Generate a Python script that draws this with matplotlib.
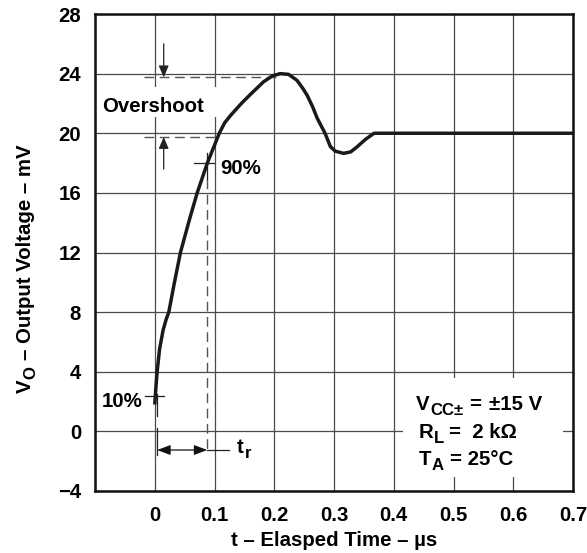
import matplotlib
matplotlib.use("Agg")
import matplotlib.pyplot as plt
from matplotlib.patches import Rectangle
from matplotlib.transforms import IdentityTransform

# ---- data ----
t_us = [0.0, 0.002, 0.004, 0.008, 0.014, 0.019, 0.0235, 0.033, 0.043, 0.058,
        0.071, 0.088, 0.098, 0.108, 0.117, 0.127, 0.145, 0.16, 0.182, 0.197,
        0.21, 0.224, 0.238, 0.248, 0.255, 0.264, 0.272, 0.285, 0.294, 0.302,
        0.316, 0.328, 0.339, 0.353, 0.367, 0.7]
vo_mv = [1.8, 3.0, 4.0, 5.5, 6.8, 7.5, 8.0, 10.0, 12.0, 14.2,
         16.0, 18.0, 19.0, 20.0, 20.7, 21.2, 22.0, 22.6, 23.45, 23.85,
         24.0, 23.95, 23.55, 23.0, 22.55, 21.8, 21.0, 20.0, 19.1, 18.8,
         18.65, 18.75, 19.1, 19.6, 20.0, 20.0]
x_ticks = [0, 0.1, 0.2, 0.3, 0.4, 0.5, 0.6, 0.7]
x_tick_labels = ["0", "0.1", "0.2", "0.3", "0.4", "0.5", "0.6", "0.7"]
y_ticks = [-4, 0, 4, 8, 12, 16, 20, 24, 28]
y_tick_labels = ["\u22124", "0", "4", "8", "12", "16", "20", "24", "28"]
x_grid = [-0.1, 0, 0.1, 0.2, 0.3, 0.4, 0.5, 0.6, 0.7]

overshoot_level = 23.75
final_level = 19.75
t10 = 0.004
t90 = 0.088
v10 = 2.4
v90 = 18.0

FONT = "Liberation Sans"
plt.rcParams["font.family"] = [FONT, "DejaVu Sans"]
plt.rcParams["font.weight"] = "bold"

FS = 14.7
SUB = 0.82
fig = plt.figure(figsize=(5.87, 5.53), dpi=100)
ax = fig.add_axes([95 / 587, 1 - 491 / 553, (573 - 95) / 587, (491 - 14) / 553])
ax.set_xlim(-0.1, 0.7)
ax.set_ylim(-4, 28)

# grid
gcol = "#4a4a4a"
for xv in x_grid:
    ax.axvline(xv, color=gcol, lw=0.9, zorder=0.5)
for yv in y_ticks:
    ax.axhline(yv, color=gcol, lw=0.9, zorder=0.5)

ax.set_xticks(x_ticks)
ax.set_xticklabels(x_tick_labels)
ax.set_yticks(y_ticks)
ax.set_yticklabels(y_tick_labels)
ax.tick_params(length=0, labelsize=FS)
ax.tick_params(axis="x", pad=10.5)
ax.tick_params(axis="y", pad=10)
for lab in ax.get_xticklabels() + ax.get_yticklabels():
    lab.set_fontweight("bold")
for sp in ax.spines.values():
    sp.set_linewidth(1.8)
    sp.set_color("#111111")
    sp.set_zorder(5)

# curve
ax.plot(t_us, vo_mv, color="#1a1a1a", lw=2.5, zorder=4, solid_capstyle="butt")

renderer = fig.canvas.get_renderer()


def rich(x0, y0, pieces, rotation=0, zorder=6):
    """pieces: (text, scale, baseline_shift_px, gap_before_px)"""
    pos = 0.0
    for s, scale, shift, gap in pieces:
        pos += gap
        if rotation == 0:
            x, y = x0 + pos, y0 - shift
        else:
            x, y = x0 + shift, y0 + pos
        t = fig.text(x, y, s, transform=IdentityTransform(), fontsize=FS * scale,
                     fontweight="bold", ha="left", va="baseline", rotation=rotation,
                     rotation_mode="anchor", zorder=zorder)
        bb = t.get_window_extent(renderer)
        pos += bb.width if rotation == 0 else bb.height


space = 0.278 * FS * 100 / 72


def dpt(x, y):
    return ax.transData.transform((x, y))


dcol = "#555555"
dash = (0, (7, 4))
# overshoot dashed levels
ax.plot([-0.018, 0.205], [overshoot_level, overshoot_level], color=dcol, lw=1.0, ls=dash, zorder=2)
ax.plot([-0.018, 0.108], [final_level, final_level], color=dcol, lw=1.0, ls=dash, zorder=2)
# overshoot arrows
ax.annotate("", xy=(0.015, overshoot_level), xytext=(0.015, 26.0),
            arrowprops=dict(arrowstyle="-|>,head_length=0.7,head_width=0.3", color="#222222", lw=0.9,
                            shrinkA=0, shrinkB=0), zorder=3)
ax.annotate("", xy=(0.015, final_level), xytext=(0.015, 17.6),
            arrowprops=dict(arrowstyle="-|>,head_length=0.7,head_width=0.3", color="#222222", lw=0.9,
                            shrinkA=0, shrinkB=0), zorder=3)
ax.add_patch(Rectangle((-0.095, 21.1), 0.199, 2.0, facecolor="white", edgecolor="none", zorder=1))
ax.text(-0.088, 21.45, "Overshoot", fontsize=FS, fontweight="bold", ha="left", va="baseline",
        zorder=3)

# 90% marker
ax.plot([0.066, 0.099], [v90, v90], color="#222222", lw=0.9, zorder=3)
ax.plot([t90, t90], [18.7, 16.9], color="#222222", lw=0.9, zorder=3)
ax.plot([t90, t90], [16.9, -1.5], color=dcol, lw=1.0, ls=dash, zorder=2)
ax.text(0.110, 17.25, "90%", fontsize=FS, fontweight="bold", ha="left", va="baseline", zorder=3)

# 10% marker
ax.plot([-0.016, 0.015], [v10, v10], color="#222222", lw=0.9, zorder=3)
ax.plot([t10, t10], [2.5, 1.0], color="#222222", lw=0.9, zorder=3)
ax.plot([t10, t10], [0.2, -1.6], color="#222222", lw=0.9, zorder=3)
ax.text(-0.021, 1.65, "10%", fontsize=FS, fontweight="bold", ha="right", va="baseline", zorder=3)

# rise time arrows
ax.annotate("", xy=(t10, -1.25), xytext=(t90, -1.25),
            arrowprops=dict(arrowstyle="<|-|>,head_length=0.8,head_width=0.3", color="#111111", lw=0.9,
                            shrinkA=0, shrinkB=0), zorder=3)
ax.plot([t90, 0.124], [-1.25, -1.25], color="#222222", lw=0.9, zorder=3)
x, y = dpt(0.138, -1.45)
rich(x, y, [("t", 1, 0, 0), ("r", SUB, 5, 0.5)])

# conditions box
ax.add_patch(Rectangle((0.416, -3.06), 0.268, 6.64, facecolor="white", edgecolor="none", zorder=1))
x, y = dpt(0.437, 1.43)
rich(x, y, [("V", 1, 0, 0), ("CC\u00b1", SUB, 5, 0.5), ("=", 1, 0, space),
            ("\u00b115 V", 1, 0, space * 1.4)])
x, y = dpt(0.441, -0.45)
rich(x, y, [("R", 1, 0, 0), ("L", SUB, 5, 0.5), ("=  2 k\u03a9", 1, 0, space)])
x, y = dpt(0.442, -2.26)
rich(x, y, [("T", 1, 0, 0), ("A", SUB, 5, 0.5), ("= 25\u00b0C", 1, 0, space)])

# axis labels
fig.text(334 / 587, 1 - 540 / 553, "t \u2013 Elasped Time \u2013 \u00b5s", fontsize=FS,
         fontweight="bold", ha="center", va="center")
rich(31, 553 - 393, [("V", 1, 0, 0), ("O", SUB, 4, 0.5), ("\u2013 Output Voltage \u2013 mV", 1, 0, space)],
     rotation=90)

fig.savefig("out.png", dpi=100)
